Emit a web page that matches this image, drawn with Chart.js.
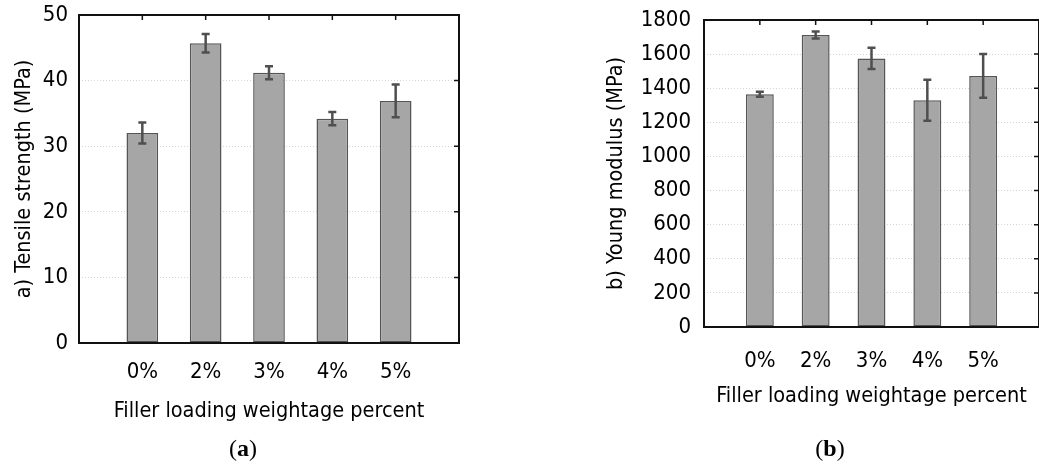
<!DOCTYPE html>
<html>
<head>
<meta charset="utf-8">
<title>Tensile strength and Young modulus</title>
<script src="https://cdn.jsdelivr.net/npm/chart.js@4.4.1/dist/chart.umd.min.js"></script>
<style>
  html, body { margin: 0; padding: 0; background: #fff; overflow: hidden; }
  body { width: 1039px; height: 464px; position: relative; }
  .panel { position: absolute; top: 0; }
  .caption {
    position: absolute;
    top: 434px;
    line-height: 28px;
    font-family: 'Liberation Serif', 'DejaVu Serif', serif;
    font-size: 24px;
    color: #000;
    transform: translateX(-50%);
    white-space: nowrap;
  }
</style>
</head>
<body>
<div class="panel" style="left:0"><canvas id="tensileChart" width="520" height="440"></canvas></div>
<div class="panel" style="left:600px"><canvas id="modulusChart" width="460" height="440"></canvas></div>
<div class="caption" style="left:243px">(<b>a</b>)</div>
<div class="caption" style="left:830px">(<b>b</b>)</div>

<script>
// values
const categories = ['0%', '2%', '3%', '4%', '5%'];
const tensileStrength = [32.0, 45.7, 41.2, 34.2, 36.9];
const tensileError = [1.6, 1.4, 1.0, 1.0, 2.5];
const youngModulus = [1365, 1712, 1575, 1330, 1472];
const youngError = [15, 20, 63, 120, 128];
const tensileTicks = [0, 10, 20, 30, 40, 50];
const youngTicks = [0, 200, 400, 600, 800, 1000, 1200, 1400, 1600, 1800];

Chart.defaults.font.family = "'DejaVu Sans Condensed', 'DejaVu Sans', Verdana, sans-serif";
Chart.defaults.color = '#000';

// empty slot on each side so the bars sit one step in from the frame
function padded(arr, fill) {
  return [fill].concat(arr, [fill]);
}

// draws +/- error whiskers on top of each bar
const errorBars = {
  id: 'errorBars',
  afterDatasetsDraw(chart) {
    const ctx = chart.ctx;
    const yScale = chart.scales.y;
    chart.data.datasets.forEach((ds, d) => {
      const meta = chart.getDatasetMeta(d);
      meta.data.forEach((bar, i) => {
        const v = ds.data[i];
        const e = ds.errors[i];
        if (v == null || e == null) return;
        const yHi = yScale.getPixelForValue(v + e);
        const yLo = yScale.getPixelForValue(v - e);
        ctx.save();
        ctx.strokeStyle = '#4f4f4f';
        ctx.lineWidth = 2.5;
        ctx.beginPath();
        ctx.moveTo(bar.x, yHi);
        ctx.lineTo(bar.x, yLo);
        ctx.moveTo(bar.x - 4, yHi);
        ctx.lineTo(bar.x + 4, yHi);
        ctx.moveTo(bar.x - 4, yLo);
        ctx.lineTo(bar.x + 4, yLo);
        ctx.stroke();
        ctx.restore();
      });
    });
  }
};

// closed frame with small inward ticks on the top and right edges
const frameBox = {
  id: 'frameBox',
  afterDraw(chart) {
    const ctx = chart.ctx;
    const a = chart.chartArea;
    const xScale = chart.scales.x;
    const yScale = chart.scales.y;
    ctx.save();
    ctx.strokeStyle = '#111';
    ctx.lineWidth = 2;
    ctx.strokeRect(a.left, a.top, a.right - a.left, a.bottom - a.top);
    ctx.lineWidth = 1.5;
    ctx.beginPath();
    for (let i = 1; i < chart.data.labels.length - 1; i++) {
      const x = xScale.getPixelForValue(i);
      ctx.moveTo(x, a.top);
      ctx.lineTo(x, a.top + 5);
    }
    yScale.ticks.forEach(t => {
      if (t.value === yScale.min || t.value === yScale.max) return;
      const y = yScale.getPixelForValue(t.value);
      ctx.moveTo(a.right, y);
      ctx.lineTo(a.right - 5, y);
    });
    ctx.stroke();
    ctx.restore();
  }
};

function makeBarChart(canvasId, cfg) {
  const ctx = document.getElementById(canvasId).getContext('2d');
  return new Chart(ctx, {
    type: 'bar',
    data: {
      labels: padded(categories, ''),
      datasets: [{
        data: padded(cfg.values, null),
        errors: padded(cfg.errors, null),
        backgroundColor: '#a6a6a6',
        borderColor: '#555',
        borderWidth: 1.5,
        borderSkipped: false,
        categoryPercentage: 1,
        barPercentage: 0.5
      }]
    },
    options: {
      responsive: false,
      animation: false,
      layout: { padding: cfg.padding },
      plugins: {
        legend: { display: false },
        tooltip: { enabled: false }
      },
      scales: {
        x: {
          type: 'category',
          offset: false,
          grid: { display: false, drawTicks: false },
          border: { display: false },
          ticks: {
            autoSkip: false,
            maxRotation: 0,
            padding: cfg.xTickPad,
            font: { size: 22 }
          },
          title: {
            display: true,
            text: 'Filler loading weightage percent',
            font: { size: 21.5 },
            padding: { top: 0, bottom: cfg.xTitlePad }
          },
          afterFit: scale => { scale.height = cfg.xHeight; }
        },
        y: {
          min: cfg.ticks[0],
          max: cfg.ticks[cfg.ticks.length - 1],
          afterBuildTicks: scale => {
            scale.ticks = cfg.ticks.map(v => ({ value: v }));
          },
          grid: { color: '#d4d4d4', lineWidth: 1, drawTicks: false },
          border: { display: false, dash: [1, 2] },
          ticks: {
            padding: cfg.yTickPad,
            font: { size: 22 },
            callback: v => String(v)
          },
          title: {
            display: true,
            text: cfg.yTitle,
            font: { size: 21.5 },
            padding: { top: cfg.yTitlePad, bottom: 0 }
          },
          afterFit: scale => {
            scale.width = cfg.yWidth;
            // let layout.padding alone set the top gap
            scale.paddingTop = 0;
            scale.paddingBottom = 0;
          }
        }
      }
    },
    plugins: [errorBars, frameBox]
  });
}

makeBarChart('tensileChart', {
  values: tensileStrength,
  errors: tensileError,
  ticks: tensileTicks,
  yTitle: 'a) Tensile strength (MPa)',
  padding: { left: 0, top: 15, right: 61, bottom: 0 },
  yWidth: 79,
  xHeight: 97,
  xTickPad: 16,
  xTitlePad: 16,
  yTickPad: 11,
  yTitlePad: 12
});

makeBarChart('modulusChart', {
  values: youngModulus,
  errors: youngError,
  ticks: youngTicks,
  yTitle: 'b) Young modulus (MPa)',
  padding: { left: 0, top: 20, right: 12, bottom: 0 },
  yWidth: 104,
  xHeight: 113,
  xTickPad: 21,
  xTitlePad: 31,
  yTickPad: 13,
  yTitlePad: 4
});
</script>
</body>
</html>
